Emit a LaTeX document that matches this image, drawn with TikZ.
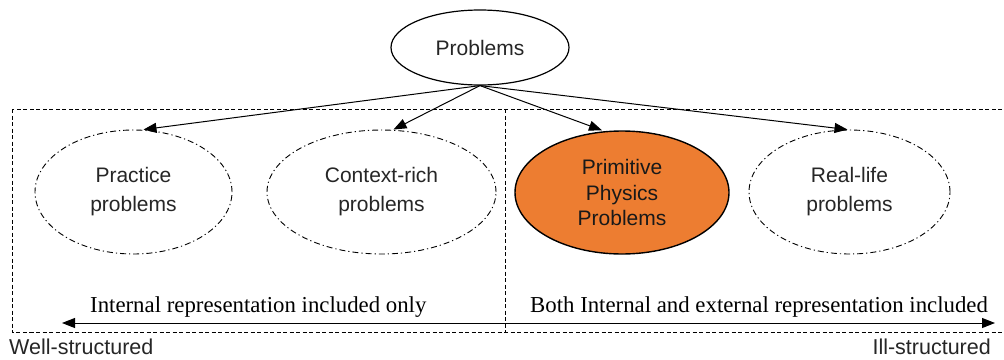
\documentclass[tikz,border=0pt]{standalone}
\usepackage{fontspec}
\setmainfont{Liberation Serif}
\setsansfont{Liberation Sans}
\usetikzlibrary{shapes.geometric,arrows.meta,calc}
\definecolor{orangefill}{HTML}{ED7D31}
\begin{document}
\begin{tikzpicture}[x=1pt,y=-1pt,
  lbl/.style={font=\sffamily\fontsize{21}{29}\selectfont, align=center, text=black!85},
  cat/.style={ellipse, draw, line width=0.9pt, dash pattern=on 6pt off 3pt on 1.2pt off 3pt, inner sep=0pt, lbl},
  arr/.style={line width=1pt, -{Triangle[length=13pt,width=10pt]}},
  box/.style={draw, line width=0.9pt, dash pattern=on 4pt off 2.5pt},
  serifl/.style={font=\fontsize{22.8}{26}\selectfont, inner sep=0pt, anchor=base west},
  side/.style={font=\sffamily\fontsize{21.5}{24}\selectfont, inner sep=0pt, text=black!85}
]
\useasboundingbox (0,0) rectangle (1004,359);
\fill[white] (0,0) rectangle (1004,359);
\draw[box] (12,109) rectangle (1012,332);
\draw[box] (505,109) -- (505,332);

\node[ellipse, draw, line width=1.2pt, minimum width=178pt, minimum height=75pt, inner sep=0pt, lbl] (probs) at (480,47.5) {Problems};
\node[cat, minimum width=197pt, minimum height=124pt] (prac) at (133.5,192) {Practice\\problems};
\node[cat, minimum width=229pt, minimum height=124pt] (ctx) at (381.5,192) {Context-rich\\problems};
\node[ellipse, draw, line width=1.4pt, fill=orangefill, minimum width=214pt, minimum height=123pt, inner sep=0pt, font=\sffamily\fontsize{21}{25.5}\selectfont, align=center, text=black!90] (prim) at (622,192.5) {Primitive\\Physics\\Problems};
\node[cat, minimum width=201pt, minimum height=124pt] (real) at (849.5,192) {Real-life\\problems};

\draw[arr] (probs.south) -- ([xshift=10pt]prac.north);
\draw[arr] (probs.south) -- ([xshift=12pt]ctx.north);
\draw[arr] (probs.south) -- ([xshift=-20pt]prim.north);
\draw[arr] (probs.south) -- ([xshift=-2pt]real.north);

\coordinate (wl) at (62,323);
\coordinate (wr) at (995,323);
\draw[line width=1pt, {Triangle[length=13pt,width=10pt]}-{Triangle[length=13pt,width=10pt]}] (wl) -- (wr);

\node[serifl] (intl) at (90,312.5) {Internal representation included only};
\node[serifl] (both) at (530,312.5) {Both Internal and external representation included};
\node[side, anchor=base west] (well) at (9,354) {Well-structured};
\node[side, anchor=base east] (ill) at (991,354) {Ill-structured};
\end{tikzpicture}
\end{document}
